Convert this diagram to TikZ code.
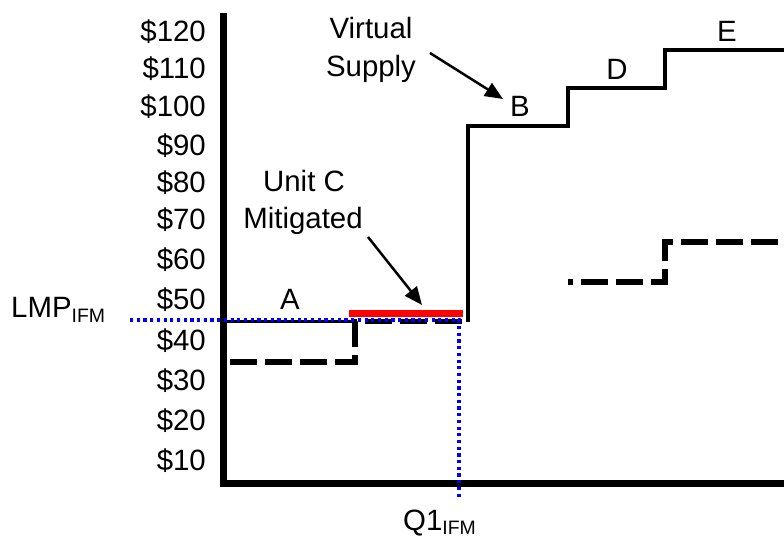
\documentclass[tikz,border=0pt]{standalone}
\usepackage{fontspec}
\setmainfont{Liberation Sans}
\usetikzlibrary{arrows.meta}
\begin{document}
\begin{tikzpicture}[x=1bp,y=-1bp,
  axisline/.style={line width=7bp, line join=miter},
  supply/.style={line width=3.5bp, line join=miter},
  bidline/.style={line width=5.5bp, dash pattern=on 27bp off 8bp},
  lmpline/.style={blue, line width=3.4bp, dash pattern=on 3.2bp off 3.5bp},
  mitig/.style={red, line width=7bp},
  callout/.style={line width=2.5bp, -{Triangle[length=18bp,width=15bp]}},
  lbl/.style={font=\fontsize{29.5}{35}\selectfont, inner sep=0pt},
  tick/.style={lbl, anchor=base east}]
\useasboundingbox (0,0) rectangle (784,538);
% y-axis labels
\node[tick] (p120) at (206,41.7) {\$120};
\node[tick] (p110) at (206,79) {\$110};
\node[tick] (p100) at (206,117) {\$100};
\node[tick] (p90) at (206,156) {\$90};
\node[tick] (p80) at (206,193) {\$80};
\node[tick] (p70) at (206,230) {\$70};
\node[tick] (p60) at (206,270) {\$60};
\node[tick] (p50) at (206,310) {\$50};
\node[tick] (p40) at (206,350) {\$40};
\node[tick] (p30) at (206,390) {\$30};
\node[tick] (p20) at (206,430) {\$20};
\node[tick] (p10) at (206,470) {\$10};
% axes
\coordinate (ax0) at (223.5,13);
\coordinate (ax1) at (223.5,483);
\coordinate (ax2) at (784,483);
\draw[axisline] (ax0) -- (ax1) -- (ax2);
% red mitigated segment
\coordinate (r0) at (349,313.5);
\coordinate (r1) at (463,313.5);
\draw[mitig] (r0) -- (r1);
% supply curve
\coordinate (s0) at (223.5,321.5);
\coordinate (s1) at (355,321.5);
\coordinate (s2) at (468,321.5);
\coordinate (s3) at (468,126);
\coordinate (s4) at (568,126);
\coordinate (s5) at (568,88);
\coordinate (s6) at (665,88);
\coordinate (s7) at (665,50);
\coordinate (s8) at (784,50);
\draw[supply] (s0) -- (s1);
\draw[supply] (s2) -- (s3) -- (s4) -- (s5) -- (s6) -- (s7) -- (s8);
% bid dashed lines
\coordinate (b0) at (230,362);
\coordinate (b1) at (355,362);
\draw[bidline] (b0) -- (b1) -- (s1) -- (s2);
\coordinate (c0) at (568,282);
\coordinate (c1) at (665,282);
\coordinate (c2) at (665,242);
\coordinate (c3) at (784,242);
\draw[bidline, dash phase=22bp] (c0) -- (c1) -- (c2) -- (c3);
% LMP dotted lines
\coordinate (l0) at (130,320);
\coordinate (l1) at (459,320);
\coordinate (l2) at (459,498);
\draw[lmpline] (l0) -- (l1) -- (l2);
% labels
\node[lbl, anchor=base west] (lmp) at (11,317) {LMP{\fontsize{19.5}{20}\selectfont\raisebox{-5bp}{IFM}}};
\node[lbl, anchor=base west] (q1) at (403,530) {Q1{\fontsize{19.5}{20}\selectfont\raisebox{-4bp}{IFM}}};
\node[lbl, anchor=base] (A) at (290,310) {A};
\node[lbl, anchor=base] (B) at (520,117) {B};
\node[lbl, anchor=base] (D) at (617,80) {D};
\node[lbl, anchor=base] (E) at (727,42) {E};
\node[lbl, anchor=base] (unitc) at (304,192) {Unit C};
\node[lbl, anchor=base] (mitigated) at (303,229) {Mitigated};
\node[lbl, anchor=base] (virtual) at (371,39) {Virtual};
\node[lbl, anchor=base] (supplyl) at (371,77) {Supply};
% callout arrows
\coordinate (m0) at (368,237);
\coordinate (m1) at (422,305);
\draw[callout] (m0) -- (m1);
\coordinate (v0) at (430,53);
\coordinate (v1) at (503,99);
\draw[callout] (v0) -- (v1);
\end{tikzpicture}
\end{document}
